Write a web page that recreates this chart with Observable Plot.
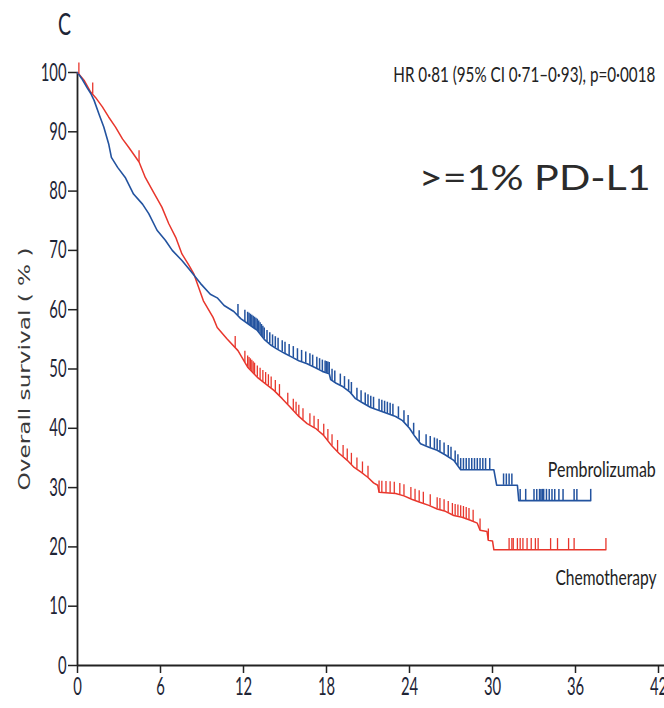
<!DOCTYPE html>
<html><head><meta charset="utf-8">
<script src="https://cdn.jsdelivr.net/npm/d3@7"></script>
<script src="https://cdn.jsdelivr.net/npm/@observablehq/plot@0.6"></script>
<style>
body{margin:0;background:#fff;}
#chart svg{display:block;}
</style></head><body><div id="chart"></div>
<script>
const xTicks = [0, 6, 12, 18, 24, 30, 36, 42];
const yTicks = [0, 10, 20, 30, 40, 50, 60, 70, 80, 90, 100];

const pembroTime = [0, 0.3, 0.7, 0.95, 1.2, 1.55, 1.9, 2.25, 2.45, 2.9, 3.45, 4.05, 4.7, 5.15, 5.75, 6.35, 6.85, 7.55, 8.15, 8.9, 9.6, 10.1, 10.6, 11.3, 11.8, 12.4, 13.0, 13.5, 14.0, 14.4, 15.0, 15.5, 16.0, 16.6, 17.2, 17.7, 18.2, 18.3, 18.7, 19.2, 19.7, 20.1, 20.6, 21.2, 21.8, 22.4, 23.0, 23.5, 24.0, 24.4, 24.8, 25.4, 26.0, 26.6, 27.2, 27.7, 30.1, 30.3, 31.8, 31.9, 37.1];
const pembroSurv = [100, 99.0, 97.4, 96.5, 95.3, 93.0, 90.8, 88.0, 85.7, 84.0, 82.3, 79.5, 77.8, 76.2, 73.4, 71.7, 70.0, 68.3, 66.6, 64.4, 62.6, 62.0, 60.7, 59.7, 58.5, 57.5, 56.5, 55.0, 54.0, 53.4, 52.6, 52.0, 51.4, 50.9, 50.2, 49.6, 49.2, 48.2, 47.6, 47.0, 46.1, 45.0, 44.3, 43.5, 43.0, 42.5, 42.0, 41.3, 40.0, 38.6, 37.4, 36.8, 36.3, 35.5, 34.6, 33.0, 33.0, 30.4, 30.4, 27.8, 27.8];

const chemoTime = [0, 0.5, 0.95, 1.3, 1.8, 2.25, 2.75, 3.25, 3.7, 4.45, 4.9, 5.5, 6.1, 6.6, 7.1, 7.55, 8.05, 8.4, 9.1, 9.8, 10.1, 10.8, 11.6, 12.3, 13.0, 13.6, 14.2, 14.8, 15.4, 16.0, 16.6, 17.2, 17.8, 18.4, 18.9, 19.5, 20.0, 20.5, 21.0, 21.4, 21.7, 21.8, 23.0, 23.6, 24.2, 24.8, 25.4, 26.0, 26.6, 27.2, 27.8, 28.4, 28.9, 29.1, 29.6, 29.7, 30.0, 30.1, 38.2];
const chemoSurv = [100, 98.6, 96.7, 95.8, 94.2, 92.5, 90.8, 88.8, 87.4, 84.9, 82.3, 79.8, 77.3, 74.5, 72.2, 69.4, 67.5, 66.1, 61.5, 58.7, 57.0, 55.1, 53.1, 50.3, 48.6, 47.5, 46.4, 45.0, 43.5, 42.0, 40.8, 40.0, 38.8, 37.0, 35.8, 34.6, 33.4, 32.6, 31.7, 30.8, 30.4, 29.2, 29.0, 28.6, 28.0, 27.5, 27.0, 26.4, 26.0, 25.3, 25.0, 24.5, 24.0, 22.8, 22.6, 21.1, 21.0, 19.5, 19.5];

const pembroCensor = [11.6, 12.1, 12.3, 12.4, 12.5, 12.6, 12.7, 12.8, 12.9, 13.0, 13.1, 13.2, 13.3, 13.4, 13.5, 13.7, 13.9, 14.1, 14.3, 14.5, 14.8, 15.0, 15.3, 15.6, 15.9, 16.2, 16.5, 16.8, 17.0, 17.3, 17.5, 17.7, 17.9, 18.0, 18.1, 18.2, 18.4, 18.6, 19.0, 19.3, 19.6, 19.8, 20.2, 20.5, 20.8, 21.0, 21.2, 21.4, 21.8, 22.0, 22.2, 22.4, 22.6, 22.8, 23.2, 23.6, 23.9, 24.3, 24.7, 25.2, 25.5, 25.8, 26.0, 26.2, 26.5, 26.8, 27.0, 27.3, 27.5, 27.7, 27.9, 28.1, 28.3, 28.5, 28.7, 28.9, 29.1, 29.3, 29.5, 29.8, 30.8, 31.0, 31.2, 31.4, 32.0, 32.4, 33.0, 33.2, 33.4, 33.5, 33.6, 33.7, 33.9, 34.1, 34.3, 34.5, 34.8, 35.1, 35.9, 36.1, 37.1];
const chemoCensor = [0.1, 1.1, 4.45, 11.4, 12.1, 12.3, 12.4, 12.5, 12.6, 12.7, 12.8, 13.0, 13.2, 13.4, 13.6, 13.8, 14.0, 14.3, 14.6, 15.2, 15.6, 15.8, 16.0, 16.3, 16.8, 17.1, 17.4, 17.8, 18.1, 18.4, 18.8, 19.2, 19.5, 19.8, 20.2, 20.6, 21.0, 21.8, 22.0, 22.3, 22.6, 22.9, 23.3, 23.6, 24.1, 24.4, 24.7, 25.0, 25.5, 26.0, 26.2, 26.5, 26.8, 27.1, 27.3, 27.5, 27.7, 27.9, 28.1, 28.3, 28.6, 29.1, 29.7, 31.2, 31.4, 31.5, 31.8, 32.0, 32.2, 32.5, 32.8, 33.1, 33.3, 34.2, 34.7, 35.5, 35.9, 38.2];

const panelLabel = "C";
const hrText = "HR 0·81 (95% CI 0·71–0·93), p=0·0018";
const subgroupText = ">=1% PD-L1";
const armNames = ["Pembrolizumab", "Chemotherapy"];
const yLabel = "Overall survival ( % )";

const BLUE = "#23539f", RED = "#e8362c";

function curve(times, surv) { return times.map((t, i) => ({t, s: surv[i]})); }
// survival value at a censoring time
function survAt(t, times, surv) {
  for (let i = 1; i < times.length; i++) {
    if (t <= times[i]) {
      const t0 = times[i - 1], t1 = times[i];
      if (t1 === t0) return surv[i];
      return surv[i - 1] + (surv[i] - surv[i - 1]) * (t - t0) / (t1 - t0);
    }
  }
  return surv[surv.length - 1];
}
function censorRows(cs, times, surv) { return cs.map(t => ({t, s: survAt(t, times, surv)})); }

const pembro = curve(pembroTime, pembroSurv);
const chemo = curve(chemoTime, chemoSurv);
const pC = censorRows(pembroCensor, pembroTime, pembroSurv);
const cC = censorRows(chemoCensor, chemoTime, chemoSurv);

const FONT = "Lato, 'Liberation Sans Narrow', sans-serif";

const chart = Plot.plot({
  width: 664, height: 708,
  marginLeft: 77, marginRight: 6, marginTop: 72, marginBottom: 43,
  x: {domain: [0, 42]},
  y: {domain: [0, 100]},
  style: {background: "#fff", overflow: "visible"},
  marks: [
    Plot.axisX({ticks: xTicks, tickSize: 8, tickPadding: 4, label: null, fontSize: 25, fill: "#1e2536", stroke: "#222", strokeWidth: 1.5, fontFamily: FONT}),
    Plot.axisY({ticks: yTicks, tickSize: 9, tickPadding: 2, label: null, fontSize: 25, fill: "#1e2536", stroke: "#222", strokeWidth: 1.5, fontFamily: FONT}),
    Plot.ruleY([0], {x1: 0, x2: 42.45, stroke: "#222", strokeWidth: 1.8}),
    Plot.ruleX([0], {y1: 0, y2: 100, stroke: "#222", strokeWidth: 1.8}),
    Plot.line(chemo, {x: "t", y: "s", stroke: RED, strokeWidth: 1.5}),
    Plot.line(pembro, {x: "t", y: "s", stroke: BLUE, strokeWidth: 1.6}),
    Plot.ruleX(cC, {x: "t", y1: "s", y2: d => d.s + 1.9, stroke: RED, strokeWidth: 1.3}),
    Plot.ruleX(pC, {x: "t", y1: "s", y2: d => d.s + 1.9, stroke: BLUE, strokeWidth: 1.5}),
    Plot.text([panelLabel], {frameAnchor: "top-left", lineAnchor: "middle", dx: -13, dy: -47, fontSize: 30, fill: "#1e2536", fontFamily: FONT, textAnchor: "middle"}),
    Plot.text([yLabel], {frameAnchor: "left", dx: -53, rotate: -90, fontSize: 16, fill: "#3a3a3a", fontFamily: "'DejaVu Sans', sans-serif", textAnchor: "middle"}),
    Plot.text([hrText], {x: 32.3, y: 99.6, fontSize: 21, fill: "#222", fontFamily: FONT, textAnchor: "middle"}),
    Plot.text([subgroupText], {x: 33.05, y: 82, fontSize: 35, fill: "#2b2b2b", fontFamily: FONT, textAnchor: "middle"}),
    Plot.text([armNames[0]], {x: 37.9, y: 33.0, fontSize: 22, fill: "#222", fontFamily: FONT, textAnchor: "middle"}),
    Plot.text([armNames[1]], {x: 38.2, y: 14.8, fontSize: 22, fill: "#222", fontFamily: FONT, textAnchor: "middle"})
  ]
});
document.getElementById("chart").appendChild(chart);

// Condense the text to match the narrow typeface of the original figure
const svg = d3.select(chart);
svg.selectAll('g[aria-label="x-axis tick label"] text, g[aria-label="y-axis tick label"] text').each(function() {
  this.setAttribute("textLength", (this.textContent.length * 8.6).toFixed(1));
  this.setAttribute("lengthAdjust", "spacingAndGlyphs");
});
const targetWidths = {};
targetWidths[panelLabel] = 13;
targetWidths[hrText] = 262;
targetWidths[subgroupText] = 232;
targetWidths[armNames[0]] = 108;
targetWidths[armNames[1]] = 101;
targetWidths[yLabel] = 243;
svg.selectAll('g[aria-label="text"] text').each(function() {
  const w = targetWidths[this.textContent];
  if (w) {
    this.setAttribute("textLength", w);
    this.setAttribute("lengthAdjust", "spacingAndGlyphs");
  }
});
</script></body></html>
